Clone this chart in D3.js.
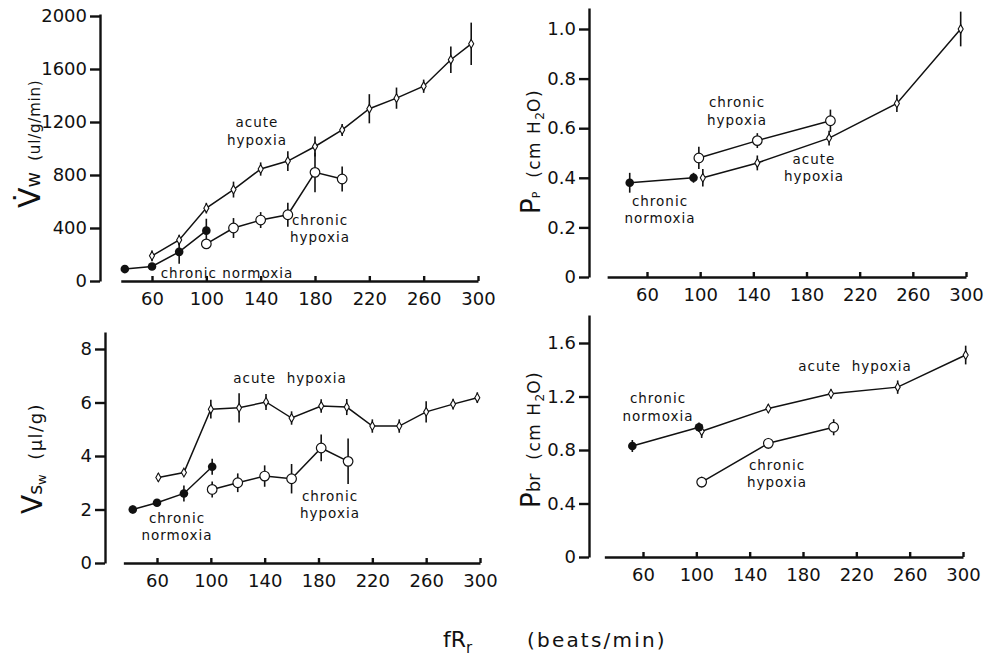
<!DOCTYPE html>
<html>
<head>
<meta charset="utf-8">
<script src="https://cdn.jsdelivr.net/npm/d3@7"></script>
<style>
  body { margin: 0; background: #fff; }
  text { font-family: "DejaVu Sans", sans-serif; fill: #111; }
  .axis path, .axis line { stroke: #111; stroke-width: 2.4; }
  .axis text { font-size: 18px; font-family: "DejaVu Sans", sans-serif; }
  .note { font-size: 13.5px; letter-spacing: 1px; }
</style>
</head>
<body>
<script>
// heart rate ticks shared by all panels
const rateTicks = [60, 100, 140, 180, 220, 260, 300];

// [rate, mean, error]
// Vw (ul/g/min)
const vwAcute = [[60,190,40],[80,310,40],[100,550,40],[120,690,60],[140,845,50],[160,905,75],[180,1015,75],[200,1140,45],[220,1300,110],[240,1380,80],[260,1470,50],[280,1670,100],[295,1790,160]];
const vwChronicHyp = [[100,280,20],[120,400,75],[140,460,60],[160,500,90],[180,820,150],[200,770,95]];
const vwNormoxia = [[40,90,0],[60,110,25],[80,220,90],[100,380,90]];
const vwTicks = ['0','400','800','1200','1600','2000'];

// Pp (cm H2O)
const ppNormoxia = [[47,0.38,0.04],[95,0.40,0.02]];
const ppChronicHyp = [[99,0.48,0.045],[143,0.55,0.03],[198,0.63,0.045]];
const ppAcute = [[102,0.40,0.035],[143,0.46,0.03],[197,0.56,0.03],[248,0.70,0.035],[296,1.0,0.07]];
const ppTicks = ['0','0.2','0.4','0.6','0.8','1.0'];

// Vsw (ul/g)
const vswNormoxia = [[42,2.0,0.15],[60,2.25,0.1],[80,2.6,0.3],[101,3.6,0.3]];
const vswAcute = [[61,3.2,0.15],[80,3.38,0.1],[100,5.75,0.35],[121,5.8,0.55],[141,6.02,0.3],[160,5.42,0.25],[182,5.87,0.25],[201,5.83,0.3],[220,5.12,0.25],[240,5.12,0.25],[260,5.65,0.4],[280,5.94,0.2],[298,6.18,0.2]];
const vswChronicHyp = [[101,2.75,0.3],[120,3.0,0.35],[140,3.25,0.4],[160,3.15,0.55],[182,4.3,0.5],[202,3.8,0.85]];
const vswTicks = ['0','2','4','6','8'];

// Pbr (cm H2O)
const pbrNormoxia = [[52,0.83,0.045],[102,0.97,0.035]];
const pbrAcute = [[104,0.94,0.05],[154,1.11,0.03],[201,1.22,0.035],[251,1.27,0.05],[302,1.51,0.07]];
const pbrChronicHyp = [[104,0.56,0.04],[154,0.85,0.04],[203,0.97,0.06]];
const pbrTicks = ['0','0.4','0.8','1.2','1.6'];

const svg = d3.select('body').append('svg')
    .attr('width', 988)
    .attr('height', 661);

svg.append('rect').attr('width', 988).attr('height', 661).attr('fill', '#fff');

const panels = [
  {
    xRange: [152, 478], xStart: 37, yPx: [281, 16], yAxisTop: 14, yAxisX: 100, ticks: vwTicks,
    series: [[vwAcute, 'acute'], [vwChronicHyp, 'chronic'], [vwNormoxia, 'normoxia']],
    notes: [
      {lines: ['acute', 'hypoxia'], x: 257, y: [127, 145]},
      {lines: ['chronic', 'hypoxia'], x: 320, y: [225, 242]},
      {lines: ['chronic normoxia'], x: 227, y: [278]}
    ],
    ylabel: {x: 40, y: 208, parts: [['V\u0307', 30, 0, 0], ['w', 19, 0, 0], ['  (ul/g/min)', 15, 0, 0.8]]}
  },
  {
    xRange: [647, 966], xStart: 30, yPx: [277, 29], yAxisTop: 8, yAxisX: 589, ticks: ppTicks,
    series: [[ppAcute, 'acute'], [ppChronicHyp, 'chronic'], [ppNormoxia, 'normoxia']],
    notes: [
      {lines: ['chronic', 'hypoxia'], x: 737, y: [107, 125]},
      {lines: ['acute', 'hypoxia'], x: 814, y: [164, 181]},
      {lines: ['chronic', 'normoxia'], x: 660, y: [206, 223]}
    ],
    ylabel: {x: 540, y: 214, parts: [['P', 26, 0, 0], ['P', 11, 0, 0], ['  (cm H', 17, 0, 1.5], ['2', 12, 4, 0], ['O)', 17, -4, 1.5]]}
  },
  {
    xRange: [157, 480], xStart: 35, yPx: [563, 349], yAxisTop: 332, yAxisX: 105, ticks: vswTicks,
    series: [[vswAcute, 'acute'], [vswChronicHyp, 'chronic'], [vswNormoxia, 'normoxia']],
    notes: [
      {lines: ['acute  hypoxia'], x: 290, y: [383]},
      {lines: ['chronic', 'normoxia'], x: 177, y: [523, 540]},
      {lines: ['chronic', 'hypoxia'], x: 330, y: [501, 518]}
    ],
    ylabel: {x: 42, y: 514, parts: [['V', 28, 0, 0], ['s', 19, 0, 0], ['w', 13, 4, 0], ['  (\u03bcl/g)', 18, -4, 1.5]]}
  },
  {
    xRange: [643, 963], xStart: 31, yPx: [557, 343], yAxisTop: 315, yAxisX: 589, ticks: pbrTicks,
    series: [[pbrAcute, 'acute'], [pbrChronicHyp, 'chronic'], [pbrNormoxia, 'normoxia']],
    notes: [
      {lines: ['acute  hypoxia'], x: 855, y: [371]},
      {lines: ['chronic', 'normoxia'], x: 658, y: [403, 421]},
      {lines: ['chronic', 'hypoxia'], x: 777, y: [470, 487]}
    ],
    ylabel: {x: 540, y: 508, parts: [['P', 26, 0, 0], ['br', 18, 0, 0], ['  (cm H', 17, 0, 1.5], ['2', 12, 4, 0], ['O)', 17, -4, 1.5]]}
  }
];

panels.forEach(p => {
    const g = svg.append('g');
    const tickVals = p.ticks.map(Number);
    const yMax = tickVals[tickVals.length - 1];

    //scales
    const x0 = d3.scaleLinear().domain([60, 300]).range(p.xRange);
    const x = d3.scaleLinear().domain([p.xStart, 300]).range([x0(p.xStart), x0(300)]);
    const y0 = d3.scaleLinear().domain([0, yMax]).range(p.yPx);
    const y = d3.scaleLinear().domain([0, y0.invert(p.yAxisTop)]).range([p.yPx[0], p.yAxisTop]);

    //axes
    const xAxis = d3.axisBottom(x)
        .tickValues(rateTicks)
        .tickFormat(d3.format('d'))
        .tickSize(-5)
        .tickSizeOuter(0)
        .tickPadding(11);
    g.append('g')
        .attr('class', 'axis')
        .attr('transform', 'translate(0,' + y(0) + ')')
        .call(xAxis);

    const yAxis = d3.axisLeft(y)
        .tickValues(tickVals)
        .tickFormat((d, i) => p.ticks[i])
        .tickSize(10)
        .tickSizeOuter(0)
        .tickPadding(3);
    g.append('g')
        .attr('class', 'axis')
        .attr('transform', 'translate(' + p.yAxisX + ',0)')
        .call(yAxis);

    g.selectAll('.axis .domain').attr('fill', 'none');

    const line = d3.line().x(d => x(d[0])).y(d => y(d[1]));

    //lines
    p.series.forEach(([data]) => {
        g.append('path')
            .datum(data)
            .attr('d', line)
            .attr('fill', 'none')
            .attr('stroke', '#111')
            .attr('stroke-width', 1.5);
    });

    //error bars
    p.series.forEach(([data]) => {
        g.selectAll(null)
            .data(data.filter(d => d[2] > 0))
            .enter()
            .append('line')
            .attr('x1', d => x(d[0]))
            .attr('x2', d => x(d[0]))
            .attr('y1', d => y(d[1] - d[2]))
            .attr('y2', d => y(d[1] + d[2]))
            .attr('stroke', '#111')
            .attr('stroke-width', 1.6);
    });

    //markers
    p.series.forEach(([data, kind]) => {
        const pts = g.selectAll(null).data(data).enter();
        if (kind === 'acute') {
            pts.append('path')
                .attr('d', d3.symbol(d3.symbolDiamond, 22))
                .attr('transform', d => 'translate(' + x(d[0]) + ',' + y(d[1]) + ')')
                .attr('fill', '#fff')
                .attr('stroke', '#111')
                .attr('stroke-width', 1.1);
        } else if (kind === 'chronic') {
            pts.append('circle')
                .attr('cx', d => x(d[0]))
                .attr('cy', d => y(d[1]))
                .attr('r', 4.8)
                .attr('fill', '#fff')
                .attr('stroke', '#111')
                .attr('stroke-width', 1.2);
        } else {
            pts.append('circle')
                .attr('cx', d => x(d[0]))
                .attr('cy', d => y(d[1]))
                .attr('r', 4.3)
                .attr('fill', '#111');
        }
    });

    //series labels
    p.notes.forEach(n => {
        n.lines.forEach((t, i) => {
            g.append('text')
                .attr('class', 'note')
                .attr('x', n.x)
                .attr('y', n.y[i])
                .attr('text-anchor', 'middle')
                .style('white-space', 'pre')
                .text(t);
        });
    });

    //y label, starts at the bottom and reads upward
    const yl = g.append('text')
        .attr('transform', 'translate(' + p.ylabel.x + ',' + p.ylabel.y + ') rotate(-90)')
        .attr('text-anchor', 'start')
        .style('white-space', 'pre');
    p.ylabel.parts.forEach(([t, size, dy, ls]) => {
        yl.append('tspan')
            .attr('font-size', size)
            .attr('dy', dy)
            .style('letter-spacing', ls + 'px')
            .text(t);
    });
});

//shared x label
const xl = svg.append('text')
    .attr('x', 443)
    .attr('y', 647)
    .style('white-space', 'pre');
xl.append('tspan').attr('font-size', 22).text('fR');
xl.append('tspan').attr('font-size', 15).attr('dy', 6).text('r');
xl.append('tspan').attr('x', 527).attr('font-size', 20).attr('dy', -6).style('letter-spacing', '2.2px').text('(beats/min)');
</script>
</body>
</html>
